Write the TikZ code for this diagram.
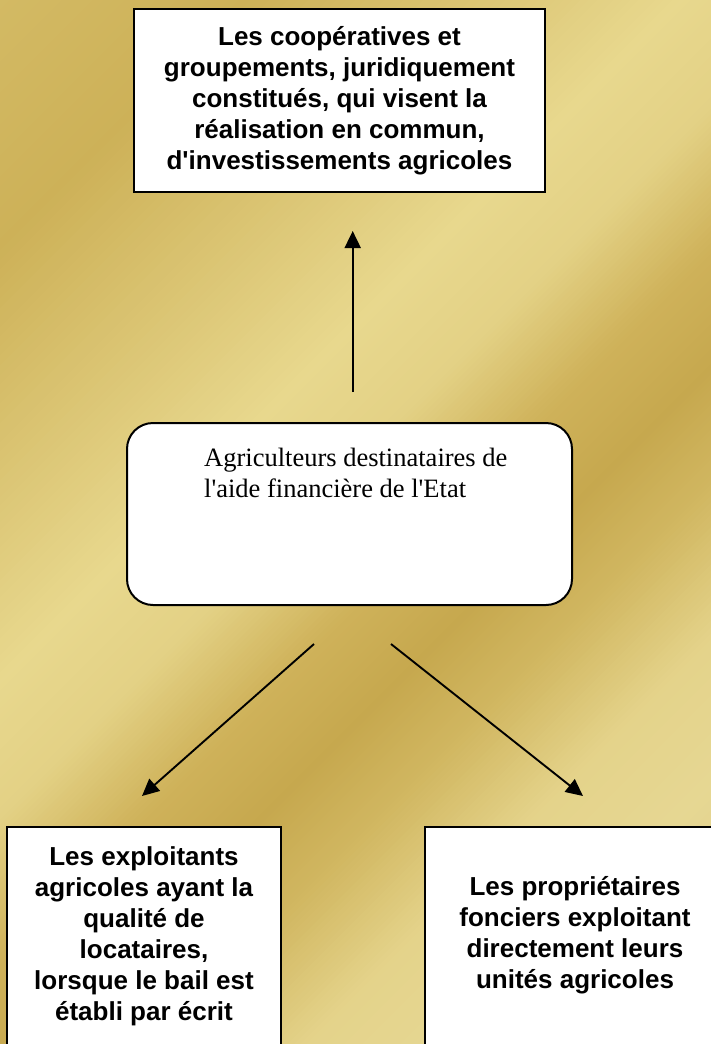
\documentclass[tikz,border=0pt]{standalone}
\usepackage{fontspec}
\newfontfamily\arialf{Liberation Sans}
\newfontfamily\timesf{Liberation Serif}
\usetikzlibrary{arrows.meta}
\definecolor{g0}{HTML}{D3BA64}
\definecolor{g1}{HTML}{CDB158}
\definecolor{g2}{HTML}{DBC574}
\definecolor{g3}{HTML}{E8D88E}
\definecolor{g4}{HTML}{E3D185}
\definecolor{g5}{HTML}{CFB25A}
\definecolor{g6}{HTML}{C6A84E}
\definecolor{g7}{HTML}{D1B761}
\definecolor{g8}{HTML}{E4D38A}
\definecolor{g9}{HTML}{E6D793}
\definecolor{g10}{HTML}{DCC77E}
\tikzset{
  sqbox/.style={draw=black, line width=2pt, fill=white, inner sep=0pt, align=center,
    font=\arialf\bfseries\fontsize{26}{31}\selectfont},
  rbox/.style={draw=black, line width=2pt, fill=white, rounded corners=26pt, inner sep=0pt,
    minimum width=445pt, minimum height=182pt},
  serift/.style={font=\timesf\fontsize{26.5}{31.6}\selectfont, align=left, inner sep=0pt, anchor=north west},
  arr/.style={-{Triangle[length=17pt,width=16pt]}, line width=1.9pt, black},
}
\begin{document}
\begin{tikzpicture}[x=1pt,y=-1pt]
\useasboundingbox (0,0) rectangle (711,1044);
\clip (0,0) rectangle (711,1044);
% gold background drawn as diagonal stripes
\foreach \ua/\ub/\ca/\cb in {0/250/g0/g1,250/480/g1/g2,480/680/g2/g3,680/820/g3/g4,820/960/g4/g5,960/1080/g5/g6,1080/1200/g6/g7,1200/1350/g7/g8,1350/1500/g8/g9,1500/1760/g9/g10}{
  \foreach \k in {0,...,23}{
    \pgfmathsetmacro\ustart{\ua+(\ub-\ua)*\k/24}
    \pgfmathsetmacro\uend{\ua+(\ub-\ua)*(\k+1)/24+1.5}
    \pgfmathtruncatemacro\mixp{100-100*(\k+0.5)/24}
    \fill[fill=\ca!\mixp!\cb] (\ustart,0) -- (\uend,0) -- (\uend-1100,1100) -- (\ustart-1100,1100) -- cycle;
  }
}
% boxes
\node[sqbox, minimum width=411pt, minimum height=183pt] (coop) at (339.5,100.5)
  {Les coopératives et\\groupements, juridiquement\\constitués, qui visent la\\réalisation en commun,\\d'investissements agricoles};
\node[rbox] (mid) at (349.5,514) {};
\node[serift] (midtext) at ([xshift=78pt,yshift=-25.6pt]mid.north west)
  {Agriculteurs destinataires de\\l'aide financière de l'Etat};
\node[sqbox, minimum width=274pt, minimum height=246pt] (loc) at (144,950)
  {Les exploitants\\agricoles ayant la\\qualité de\\locataires,\\lorsque le bail est\\établi par écrit\rule[-33pt]{0pt}{0pt}};
\node[sqbox, minimum width=300pt, minimum height=246pt] (prop) at (575,950)
  {Les propriétaires\\fonciers exploitant\\directement leurs\\unités agricoles\rule[-36pt]{0pt}{0pt}};
% arrows
\draw[arr] ([xshift=3.2pt,yshift=30pt]mid.north) -- ([xshift=13.2pt,yshift=-38pt]coop.south);
\draw[arr] ([xshift=-35.5pt,yshift=-38pt]mid.south) -- ([xshift=-2pt,yshift=30pt]loc.north);
\draw[arr] ([xshift=41.5pt,yshift=-38pt]mid.south) -- ([xshift=8pt,yshift=30pt]prop.north);
\end{tikzpicture}
\end{document}
